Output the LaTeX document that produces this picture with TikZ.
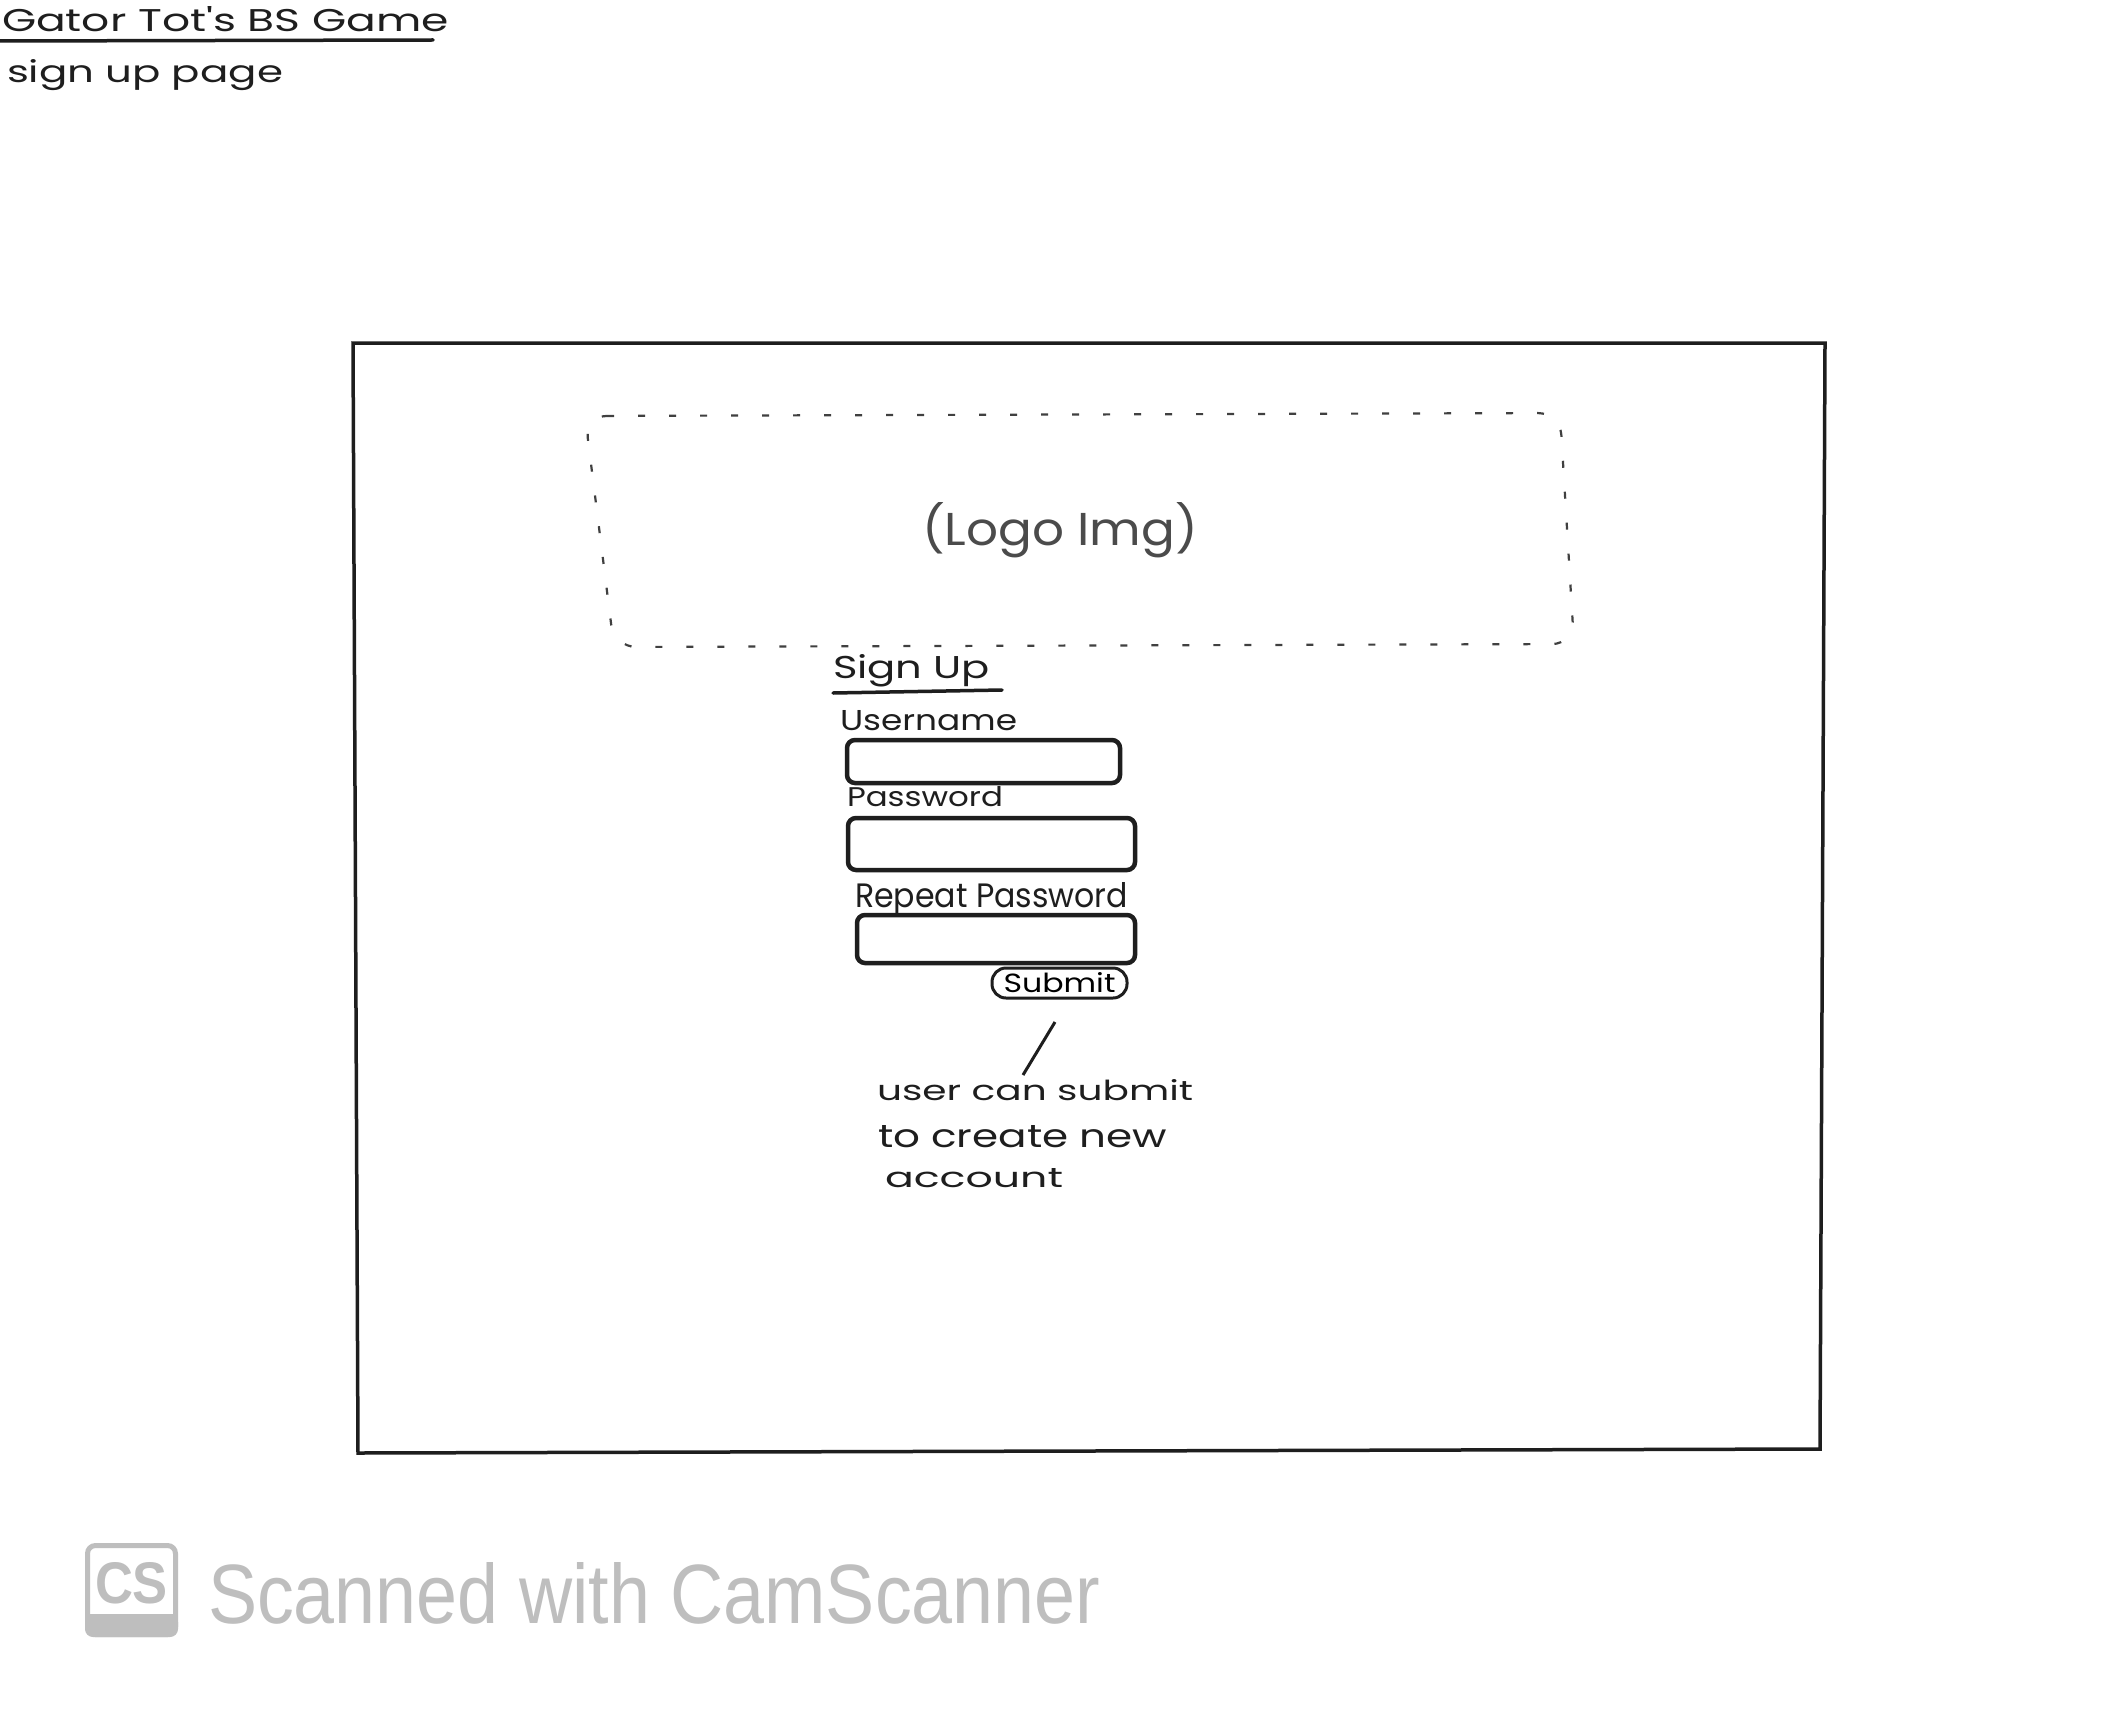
\documentclass[tikz,border=0pt]{standalone}
\usepackage{fontspec}
\usepackage{graphicx}
\newfontfamily\handfont{Poppins}
\newfontfamily\csfont{Liberation Sans}
\definecolor{ink}{RGB}{30,30,30}
\definecolor{csgray}{RGB}{190,190,190}
\newcommand{\hw}[3]{\resizebox{#1pt}{#2pt}{\handfont #3}}
\tikzset{
  txt/.style={anchor=base west, inner sep=0pt, outer sep=0pt, text=ink},
  field/.style={draw=ink, line width=4.5pt, rounded corners=8pt, inner sep=0pt},
  btn/.style={draw=ink, line width=3pt, rounded corners=14pt, inner sep=0pt},
  frameline/.style={draw=ink, line width=3.5pt},
  dashline/.style={draw=ink!85, line width=2.2pt, dash pattern=on 7pt off 24pt, rounded corners=22pt},
  uline/.style={draw=ink, line width=3.5pt, line cap=round}
}
\begin{document}
\begin{tikzpicture}[x=1pt,y=-1pt]
\fill[white] (0,0) rectangle (2108,1712);
\useasboundingbox (0,0) rectangle (2108,1712);

% header
\node[txt] (title) at (2,32) {\hw{447}{25}{Gator Tot's BS Game}};
\draw[uline] (0,41) -- (433,40);
\node[txt] (subtitle) at (7,83) {\hw{276}{23}{sign up page}};

% page frame
\draw[frameline] (353,343) -- (1825,343) -- (1820,1449) -- (358,1453) -- cycle;

% logo placeholder
\draw[dashline] (585,416) -- (1560,413) -- (1574,644) -- (614,647) -- cycle;
\node[txt, text=ink!80] (logo) at (922,545) {\hw{276}{43}{(Logo Img)}};

% sign up form
\node[txt] (signup) at (833,678) {\hw{157}{24}{Sign Up}};
\draw[uline] (833,693) -- (1002,690);

\node[txt] (user) at (840,730) {\hw{177}{20}{Username}};
\node[field, minimum width=273pt, minimum height=43pt] (userbox) at (983.5,761.5) {};

\node[txt] (pass) at (847,806) {\hw{156}{20}{Password}};
\node[field, minimum width=287pt, minimum height=52pt] (passbox) at (991.5,844) {};

\node[txt] (rep) at (855,907) {\hw{273}{25}{Repeat Password}};
\node[field, minimum width=278pt, minimum height=48pt] (repbox) at (996,939) {};

\node[btn, minimum width=135pt, minimum height=30pt] (submit) at (1059.5,983) {\hw{112}{20}{Submit}};

% annotation
\coordinate (leadA) at (1055,1022);
\coordinate (leadB) at (1023,1075);
\draw[ink, line width=3pt] (leadA) -- (leadB);
\node[txt] (note1) at (877,1100) {\hw{316}{21}{user can submit}};
\node[txt] (note2) at (878,1147) {\hw{289}{22}{to create new}};
\node[txt] (note3) at (885,1187) {\hw{178}{19}{account}};

% CamScanner watermark
\fill[csgray, rounded corners=8pt] (85,1614) rectangle (178,1637);
\fill[csgray] (85,1614) rectangle (178,1626);
\draw[csgray, line width=5pt, rounded corners=8pt] (87.5,1545.5) rectangle (175.5,1634.5);
\node[txt, text=csgray] (cslogo) at (95,1603) {\resizebox{73pt}{41pt}{\csfont\bfseries CS}};
\node[txt, text=csgray] (cstext) at (208,1623) {\resizebox{892pt}{61pt}{\csfont Scanned with CamScanner}};
\end{tikzpicture}
\end{document}
